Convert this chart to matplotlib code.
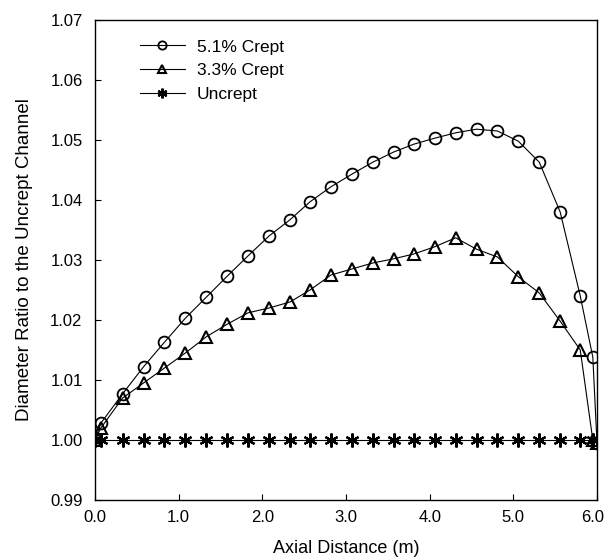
import matplotlib
matplotlib.use("Agg")
import matplotlib.pyplot as plt
from matplotlib.transforms import ScaledTranslation

plt.rcParams['font.family'] = ['Liberation Sans', 'DejaVu Sans']

# axial positions (m)
x = [0.0, 0.07, 0.33, 0.58, 0.83, 1.08, 1.33, 1.58, 1.83, 2.08, 2.33, 2.57, 2.82,
     3.07, 3.32, 3.57, 3.81, 4.06, 4.31, 4.56, 4.81, 5.06, 5.31, 5.56, 5.80, 5.95, 6.0]

crept_51 = [1.0, 1.0028, 1.0077, 1.0122, 1.0163, 1.0203, 1.0238, 1.0273, 1.0307,
            1.0340, 1.0367, 1.0397, 1.0422, 1.0443, 1.0463, 1.0480, 1.0493, 1.0503,
            1.0512, 1.0518, 1.0515, 1.0498, 1.0463, 1.0380, 1.0240, 1.0138, 0.9995]

crept_33 = [1.0, 1.0020, 1.0070, 1.0095, 1.0120, 1.0145, 1.0172, 1.0193, 1.0212,
            1.0220, 1.0230, 1.0250, 1.0275, 1.0285, 1.0295, 1.0302, 1.0310, 1.0322,
            1.0337, 1.0318, 1.0305, 1.0272, 1.0245, 1.0198, 1.0150, 1.0000, 0.9995]

uncrept = [1.0] * len(x)

xticks = [0, 1, 2, 3, 4, 5, 6]
yticks = [0.99, 1.00, 1.01, 1.02, 1.03, 1.04, 1.05, 1.06, 1.07]

fig = plt.figure(figsize=(6.05, 5.57), dpi=100)
ax = fig.add_axes([95 / 605, 57 / 557, 502 / 605, 480 / 557])

ax.plot(x, crept_51, color='black', lw=0.8, marker='o', ms=8.5,
        mfc='none', mec='black', mew=1.3, label='5.1% Crept')
ax.plot(x, crept_33, color='black', lw=0.8, marker='^', ms=9,
        mfc='none', mec='black', mew=1.5, label='3.3% Crept')
ax.plot(x, uncrept, color='black', lw=0.8, marker=(6, 2, 0), ms=10,
        mec='black', mew=1.6, label='Uncrept')

ax.set_xlim(0, 6)
ax.set_ylim(0.99, 1.07)
ax.set_xticks(xticks)
ax.set_xticklabels(['%.1f' % t for t in xticks])
ax.set_yticks(yticks)
ax.set_yticklabels(['%.2f' % t for t in yticks])
ax.tick_params(direction='in', length=4, width=0.8, labelsize=12)
ax.tick_params(axis='x', pad=7)
ax.tick_params(axis='y', pad=9)

# keep the last x label inside the figure, as in the original
last = ax.get_xticklabels()[-1]
last.set_transform(last.get_transform() + ScaledTranslation(-4 / 100, 0, fig.dpi_scale_trans))

for s in ax.spines.values():
    s.set_linewidth(1.0)

ax.set_xlabel('Axial Distance (m)', fontsize=13, labelpad=11)
ax.set_ylabel('Diameter Ratio to the Uncrept Channel', fontsize=13.5, labelpad=12)

ax.legend(loc='upper left', frameon=False, fontsize=12.5, handlelength=2.6,
          markerscale=0.7, borderaxespad=0.3, bbox_to_anchor=(0.065, 0.985),
          labelspacing=0.5, handletextpad=0.7)

fig.savefig('out.png', dpi=100)
